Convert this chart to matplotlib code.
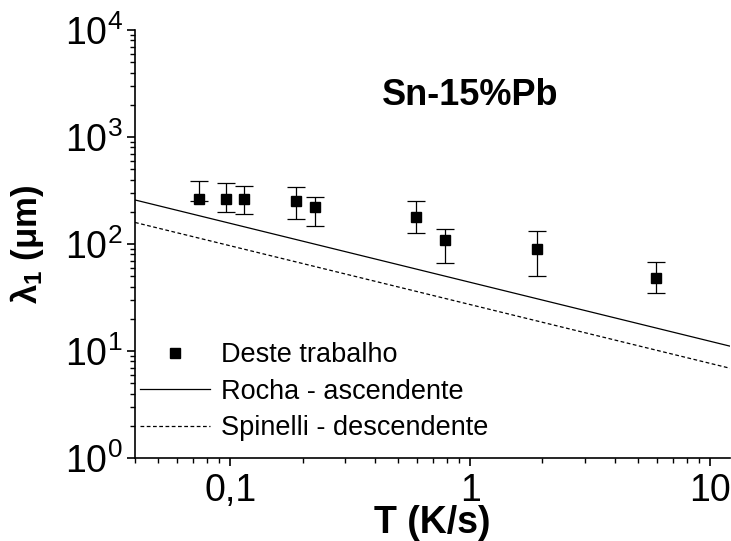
import matplotlib
matplotlib.use("Agg")
import matplotlib.pyplot as plt
from matplotlib.ticker import FixedLocator, FixedFormatter, LogLocator, NullFormatter

plt.rcParams['font.family'] = ['Liberation Sans', 'DejaVu Sans']
plt.rcParams['mathtext.fontset'] = 'custom'
plt.rcParams['mathtext.rm'] = 'Liberation Sans'
plt.rcParams['mathtext.it'] = 'Liberation Sans:italic'
plt.rcParams['mathtext.bf'] = 'Liberation Sans:bold'

# Experimental spacing measurements (cooling rate in K/s, lambda_1 in um)
cooling_rate = [0.074, 0.096, 0.114, 0.188, 0.225, 0.596, 0.782, 1.89, 5.97]
lambda1 = [266, 265, 261, 253, 221, 177, 110, 90, 48]
err_upper = [384, 373, 347, 342, 274, 250, 138, 132, 68]
err_lower = [250, 200, 190, 172, 147, 128, 67, 50, 35]

# Literature correlations (straight lines on log-log axes, end points)
rocha_rate = [0.04, 12.1]
rocha_lambda = [258, 11.1]
spinelli_rate = [0.04, 12.1]
spinelli_lambda = [159, 6.9]

xtick_values = [0.1, 1, 10]
xtick_labels = ['0,1', '1', '10']
ytick_values = [1, 10, 100, 1000, 10000]
ytick_labels = [r'$\mathregular{10^{0}}$', r'$\mathregular{10^{1}}$',
                r'$\mathregular{10^{2}}$', r'$\mathregular{10^{3}}$',
                r'$\mathregular{10^{4}}$']

fig = plt.figure(figsize=(7.31, 5.41), dpi=100)
ax = fig.add_axes([135 / 731, 1 - 458 / 541, 595 / 731, 428 / 541])

ax.set_xscale('log')
ax.set_yscale('log')
ax.set_xlim(0.04, 12.1)
ax.set_ylim(1, 10000)

yerr = [[v - lo for v, lo in zip(lambda1, err_lower)],
        [hi - v for v, hi in zip(lambda1, err_upper)]]
ax.errorbar(cooling_rate, lambda1, yerr=yerr, fmt='none', ecolor='black',
            elinewidth=0.9, capsize=6.5, capthick=0.9)
ax.plot(cooling_rate, lambda1, 's', color='black', markersize=6.5,
        label='Deste trabalho')
ax.plot(rocha_rate, rocha_lambda, '-', color='black', linewidth=0.9,
        label='Rocha - ascendente')
ax.plot(spinelli_rate, spinelli_lambda, color='black', linewidth=0.9,
        linestyle=(0, (3, 2)), label='Spinelli - descendente')

for side in ('top', 'right'):
    ax.spines[side].set_visible(False)
for side in ('left', 'bottom'):
    ax.spines[side].set_linewidth(1.2)

ax.xaxis.set_major_locator(FixedLocator(xtick_values))
ax.xaxis.set_major_formatter(FixedFormatter(xtick_labels))
ax.xaxis.set_minor_locator(LogLocator(base=10, subs=range(2, 10), numticks=20))
ax.xaxis.set_minor_formatter(NullFormatter())
ax.yaxis.set_major_locator(FixedLocator(ytick_values))
ax.yaxis.set_major_formatter(FixedFormatter(ytick_labels))
ax.yaxis.set_minor_locator(LogLocator(base=10, subs=range(2, 10), numticks=20))
ax.yaxis.set_minor_formatter(NullFormatter())

ax.tick_params(which='major', direction='out', length=6, width=1.2,
               labelsize=27)
ax.tick_params(axis='x', which='major', pad=4.5)
ax.tick_params(axis='y', which='major', pad=3)
ax.tick_params(which='minor', direction='out', length=3.5, width=1.0)

ax.set_xlabel('T (K/s)', fontsize=27, fontweight='bold', labelpad=-2.5)
ax.set_ylabel(r'$\mathbf{\lambda_1}$ (μm)', fontsize=25, fontweight='bold',
              labelpad=13)

ax.text(0.564, 0.825, 'Sn-15%Pb', transform=ax.transAxes, fontsize=26,
        fontweight='bold', ha='center', va='baseline')

ax.legend(loc='lower left', frameon=False, fontsize=19.5, numpoints=1,
          handlelength=2.58, handletextpad=0.4, labelspacing=0.39,
          borderaxespad=0.0, borderpad=0.2, bbox_to_anchor=(-0.001, 0.026))

fig.savefig('out.png', dpi=100)
